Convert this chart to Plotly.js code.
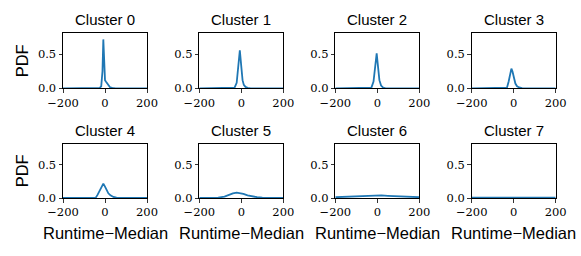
<!DOCTYPE html>
<html>
<head>
<meta charset="utf-8">
<script src="https://cdn.plot.ly/plotly-3.0.1.min.js"></script>
<style>html,body{margin:0;padding:0;background:#fff;}#chart{width:581px;height:256px;}</style>
</head>
<body>
<div id="chart"></div>
<script>
// ---- data ----
const clusterNames = ['Cluster 0','Cluster 1','Cluster 2','Cluster 3','Cluster 4','Cluster 5','Cluster 6','Cluster 7'];
const xTickVals = [-200, 0, 200];
const xTickText = ['\u2212200', '0', '200'];
const yTickVals = [0, 0.5];
const yTickText = ['0.0', '0.5'];
const xLabel = 'Runtime\u2212Median';
const yLabel = 'PDF';

const c0x = [-200,-40,-25,-18,-12,-8,-4,0,4,10,16,24,35,50,200];
const c0y = [0,0,0.005,0.03,0.25,0.72,0.35,0.12,0.1,0.07,0.04,0.015,0.005,0,0];
const c1x = [-200,-45,-32,-22,-14,-7,0,6,12,20,30,45,200];
const c1y = [0,0,0.01,0.08,0.3,0.56,0.32,0.12,0.05,0.02,0.006,0,0];
const c2x = [-200,-40,-28,-18,-10,-3,4,10,18,28,40,200];
const c2y = [0,0,0.01,0.1,0.32,0.515,0.3,0.12,0.04,0.01,0,0];
const c3x = [-200,-45,-32,-24,-16,-11,-6,0,8,16,26,40,60,200];
const c3y = [0,0,0.01,0.1,0.26,0.29,0.25,0.16,0.07,0.03,0.012,0.003,0,0];
const c4x = [-200,-55,-44,-35,-25,-15,-8,0,8,16,26,40,55,75,200];
const c4y = [0,0,0.005,0.05,0.12,0.18,0.215,0.17,0.11,0.07,0.04,0.015,0.005,0,0];
const c5x = [-200,-150,-110,-80,-60,-40,-22,-5,10,30,50,75,100,140,200];
const c5y = [0,0.001,0.006,0.02,0.045,0.07,0.08,0.075,0.06,0.04,0.025,0.012,0.006,0.002,0];
const c6x = [-200,-150,-100,-50,-20,0,20,50,100,150,200];
const c6y = [0.012,0.018,0.025,0.032,0.037,0.045,0.038,0.032,0.024,0.017,0.012];
const c7x = [-200,-100,-30,-10,0,10,30,100,200];
const c7y = [0.004,0.005,0.006,0.01,0.014,0.01,0.006,0.005,0.004];

const seriesX = [c0x,c1x,c2x,c3x,c4x,c5x,c6x,c7x];
const seriesY = [c0y,c1y,c2y,c3y,c4y,c5y,c6y,c7y];

// ---- layout geometry (pixels) ----
const W = 581, H = 256;
const colL = [63, 199.3, 335.3, 471.7];
const colW = 84;
const rowTop = [33.3, 143.7];
const rowBot = [88.3, 198];
const px = v => v / W;
const py = v => 1 - v / H;

const serif = 'DejaVu Serif';
const sans = 'Liberation Sans';

const traces = [];
const layout = {
  width: W, height: H,
  margin: {l:0, r:0, t:0, b:0},
  paper_bgcolor: '#fff', plot_bgcolor: '#fff',
  showlegend: false,
  font: {family: serif, size: 11.5, color: '#000'},
  annotations: []
};

for (let i = 0; i < 8; i++) {
  const r = Math.floor(i / 4), c = i % 4;
  const n = i + 1;
  const sfx = n === 1 ? '' : String(n);
  traces.push({
    x: seriesX[i], y: seriesY[i],
    type: 'scatter', mode: 'lines',
    line: {color: '#1f77b4', width: 1.8},
    xaxis: 'x' + sfx, yaxis: 'y' + sfx,
    hoverinfo: 'skip'
  });
  layout['xaxis' + sfx] = {
    domain: [px(colL[c]), px(colL[c] + colW)],
    anchor: 'y' + sfx,
    range: [-200, 200],
    tickmode: 'array', tickvals: xTickVals, ticktext: xTickText,
    ticks: 'outside', ticklen: 3.5, tickwidth: 0.8, tickcolor: '#000',
    showline: true, linecolor: '#000', linewidth: 1, mirror: true,
    showgrid: false, zeroline: false,
    tickfont: {family: serif, size: 11.5, color: '#000'}
  };
  layout['yaxis' + sfx] = {
    domain: [py(rowBot[r]), py(rowTop[r])],
    anchor: 'x' + sfx,
    range: [0, 0.81],
    tickmode: 'array', tickvals: yTickVals, ticktext: yTickText,
    ticks: 'outside', ticklen: 3.5, tickwidth: 0.8, tickcolor: '#000',
    showline: true, linecolor: '#000', linewidth: 1, mirror: true,
    showgrid: false, zeroline: false,
    tickfont: {family: serif, size: 11.5, color: '#000'}
  };
  layout.annotations.push({
    text: clusterNames[i], xref: 'paper', yref: 'paper',
    x: px(colL[c] + colW / 2), y: py(rowTop[r] - 3),
    xanchor: 'center', yanchor: 'bottom', showarrow: false,
    font: {family: sans, size: 15, color: '#000'}
  });
  if (r === 1) {
    layout.annotations.push({
      text: xLabel, xref: 'paper', yref: 'paper',
      x: px(colL[c] + colW / 2), y: py(233),
      xanchor: 'center', yanchor: 'middle', showarrow: false,
      font: {family: sans, size: 16.5, color: '#000'}
    });
  }
  if (c === 0) {
    layout.annotations.push({
      text: yLabel, xref: 'paper', yref: 'paper',
      x: px(21.5), y: py((rowTop[r] + rowBot[r]) / 2),
      xanchor: 'center', yanchor: 'middle', textangle: -90, showarrow: false,
      font: {family: sans, size: 16.5, color: '#000'}
    });
  }
}

Plotly.newPlot('chart', traces, layout, {staticPlot: true, displayModeBar: false});
</script>
</body>
</html>
